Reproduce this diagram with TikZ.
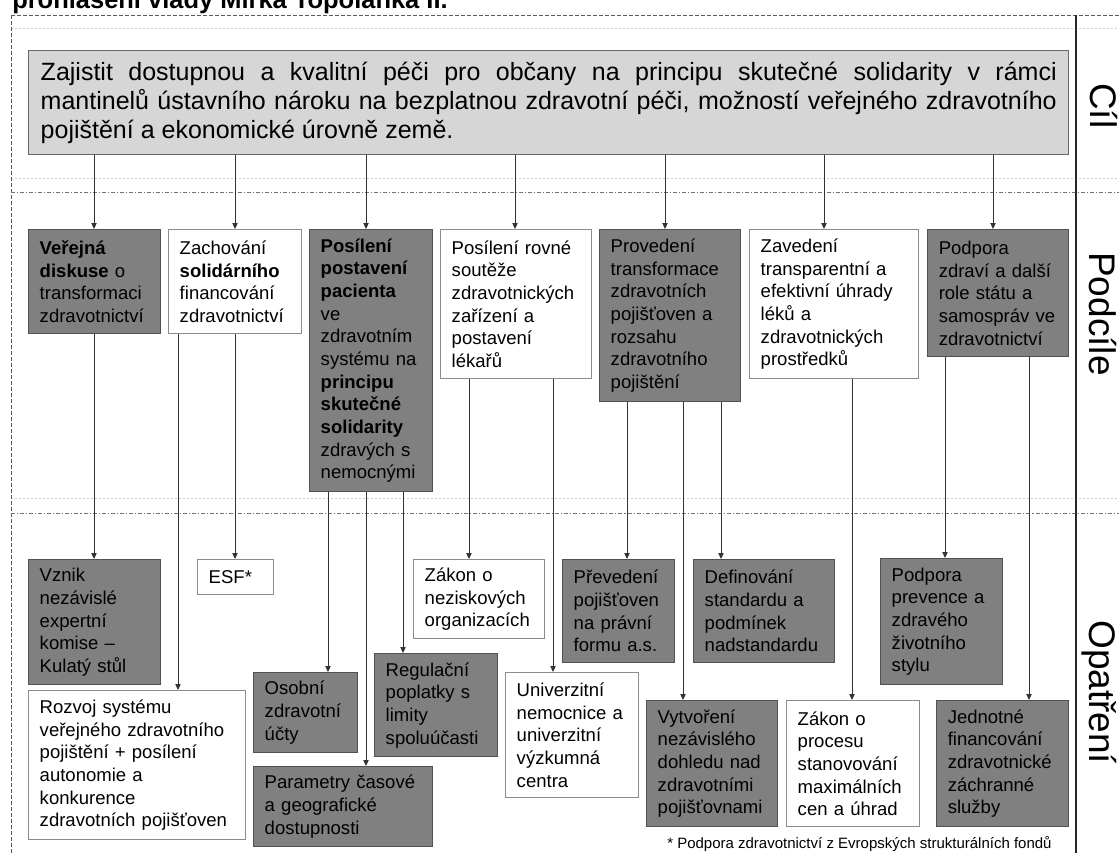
\documentclass[tikz,border=0pt]{standalone}
\usepackage{fontspec}
\setmainfont{Liberation Sans}
\usetikzlibrary{arrows.meta}

\begin{document}
\begin{tikzpicture}[x=0.75pt,y=-0.75pt,
  % boxes of the two lower levels
  basebox/.style={anchor=north west, align=left, inner xsep=8.25pt, inner ysep=2pt,
    line width=1.1pt, font=\fontsize{13.9pt}{17pt}\selectfont},
  dkbox/.style={basebox, draw=black!68, fill=black!50},
  wtbox/.style={basebox, draw=black!45, fill=white},
  sz/.style 2 args={minimum width=#1*0.75pt, minimum height=#2*0.75pt,
    text width=(#1-22)*0.75pt},
  goalbox/.style={anchor=north west, align=justify, inner xsep=9pt, inner ysep=2pt,
    draw=black!60, fill=black!16, line width=1.1pt,
    minimum width=780pt, minimum height=78pt, text width=762pt,
    font=\fontsize{18.75pt}{21.5pt}\selectfont},
  arr/.style={draw=black!80, line width=0.75pt, -{Triangle[length=4.5pt,width=4pt]}},
  frameline/.style={draw=black!65, line width=0.6pt, dash pattern=on 3pt off 1.5pt},
  sepline/.style={draw=black!55, line width=0.6pt, dash pattern=on 3pt off 1.5pt on 0.8pt off 1.5pt},
  ghostline/.style={draw=black!18, line width=0.5pt, dash pattern=on 1.5pt off 1.5pt},
  sidelbl/.style={rotate=-90, anchor=base west, inner sep=0pt,
    font=\fontsize{27.75pt}{30pt}\selectfont}
]
\useasboundingbox (0,0) rectangle (1119,853);
\clip (0,0) rectangle (1119,853);
\fill[white] (0,0) rectangle (1119,853);

% heading, partly above the page
\node[anchor=base west, inner sep=0pt, font=\bfseries\fontsize{19.1pt}{22pt}\selectfont]
  (title) at (12,8.5) {prohlášení vlády Mirka Topolánka II.};

% frame and level separators
\draw[ghostline] (11,28) -- (1119,28);
\draw[ghostline] (11,178) -- (1119,178);
\draw[ghostline] (11,498) -- (1119,498);
\draw[frameline] (11,15) -- (1119,15);
\draw[frameline] (11,15) -- (11,853);
\draw[sepline] (11,192) -- (1119,192);
\draw[sepline] (11,513) -- (1119,513);
\draw[black!85, line width=1.1pt] (1076,15) -- (1076,853);

% level labels
\node[sidelbl] (lc) at (1090,83) {Cíl};
\node[sidelbl] (lp) at (1089,252) {Podcíle};
\node[sidelbl] (lo) at (1089,620) {Opatření};

% goal
\node[goalbox] (goal) at (28,50) {Zajistit dostupnou a kvalitní péči pro občany na principu skutečné solidarity v~rámci\linebreak
mantinelů ústavního nároku na bezplatnou zdravotní péči, možností veřejného zdravotního\linebreak
pojištění a ekonomické úrovně země.};

% sub-goals
\node[dkbox, sz={132}{104}] (s1) at (28,229) {\textbf{Veřejná}\\\textbf{diskuse} o\\transformaci\\zdravotnictví};
\node[wtbox, sz={133}{104}] (s2) at (168,229) {Zachování\\\textbf{solidárního}\\financování\\zdravotnictví};
\node[dkbox, sz={123}{262}] (s3) at (309,229) {\textbf{Posílení}\\\textbf{postavení}\\\textbf{pacienta}\\ve\\zdravotním\\systému na\\\textbf{principu}\\\textbf{skutečné}\\\textbf{solidarity}\\zdravých s\\nemocnými};
\node[wtbox, sz={151}{149}] (s4) at (440,229) {Posílení rovné\\soutěže\\zdravotnických\\zařízení a\\postavení\\lékařů};
\node[dkbox, sz={141}{172}] (s5) at (599,229) {Provedení\\transformace\\zdravotních\\pojišťoven a\\rozsahu\\zdravotního\\pojištění};
\node[wtbox, sz={169}{149}] (s6) at (749,229) {Zavedení\\transparentní a\\efektivní úhrady\\léků a\\zdravotnických\\prostředků};
\node[dkbox, sz={141}{127}] (s7) at (927,229) {Podpora\\zdraví a další\\role státu a\\samospráv ve\\zdravotnictví};

% measures
\node[dkbox, sz={132}{125}] (m1) at (28,559) {Vznik\\nezávislé\\expertní\\komise –\\Kulatý stůl};
\node[wtbox, sz={76}{35}] (m2) at (197,559) {ESF*};
\node[wtbox, sz={217}{149}] (m3) at (28,690) {Rozvoj systému\\veřejného zdravotního\\pojištění + posílení\\autonomie a\\konkurence\\zdravotních pojišťoven};
\node[dkbox, sz={104}{80}] (m4) at (253,672) {Osobní\\zdravotní\\účty};
\node[dkbox, sz={179}{80}] (m5) at (253,766) {Parametry časové\\a geografické\\dostupnosti};
\node[dkbox, sz={123}{103}] (m6) at (374,653) {Regulační\\poplatky s\\limity\\spoluúčasti};
\node[wtbox, sz={131}{79}] (m7) at (413,559) {Zákon o\\neziskových\\organizacích};
\node[wtbox, sz={133}{125}] (m8) at (505,672) {Univerzitní\\nemocnice a\\univerzitní\\výzkumná\\centra};
\node[dkbox, sz={112}{103}] (m9) at (562,559) {Převedení\\pojišťoven\\na právní\\formu a.s.};
\node[dkbox, sz={141}{103}] (m10) at (693,559) {Definování\\standardu a\\podmínek\\nadstandardu};
\node[dkbox, sz={131}{126}] (m11) at (646,700) {Vytvoření\\nezávislého\\dohledu nad\\zdravotními\\pojišťovnami};
\node[wtbox, sz={133}{126}] (m12) at (786,700) {Zákon o\\procesu\\stanovování\\maximálních\\cen a úhrad};
\node[dkbox, sz={122}{126}] (m13) at (880,558) {Podpora\\prevence a\\zdravého\\životního\\stylu};
\node[dkbox, sz={132}{126}] (m14) at (936,700) {Jednotné\\financování\\zdravotnické\\záchranné\\služby};

% footnote
\node[anchor=base west, inner sep=0pt, font=\fontsize{11.25pt}{13pt}\selectfont]
  (fn) at (667,848) {* Podpora zdravotnictví z Evropských strukturálních fondů};

% vertical positions of the connectors
\foreach \xx in {94,178,235,328,366,403,469,515,553,627,665,683,721,824,852,945,993,1029}
  \coordinate (v\xx) at (\xx,0);

% goal -> sub-goals
\draw[arr] (goal.south -| v94) -- (s1.north -| v94);
\draw[arr] (goal.south -| v235) -- (s2.north -| v235);
\draw[arr] (goal.south -| v366) -- (s3.north -| v366);
\draw[arr] (goal.south -| v515) -- (s4.north -| v515);
\draw[arr] (goal.south -| v665) -- (s5.north -| v665);
\draw[arr] (goal.south -| v824) -- (s6.north -| v824);
\draw[arr] (goal.south -| v993) -- (s7.north -| v993);

% sub-goals -> measures
\draw[arr] (s1.south -| v94) -- (m1.north -| v94);
\draw[arr] (s2.south -| v178) -- (m3.north -| v178);
\draw[arr] (s2.south -| v235) -- (m2.north -| v235);
\draw[arr] (s3.south -| v328) -- (m4.north -| v328);
\draw[arr] (s3.south -| v366) -- (m5.north -| v366);
\draw[arr] (s3.south -| v403) -- (m6.north -| v403);
\draw[arr] (s4.south -| v469) -- (m7.north -| v469);
\draw[arr] (s4.south -| v553) -- (m8.north -| v553);
\draw[arr] (s5.south -| v627) -- (m9.north -| v627);
\draw[arr] (s5.south -| v683) -- (m11.north -| v683);
\draw[arr] (s5.south -| v721) -- (m10.north -| v721);
\draw[arr] (s6.south -| v852) -- (m12.north -| v852);
\draw[arr] (s7.south -| v945) -- (m13.north -| v945);
\draw[arr] (s7.south -| v1029) -- (m14.north -| v1029);
\end{tikzpicture}
\end{document}
